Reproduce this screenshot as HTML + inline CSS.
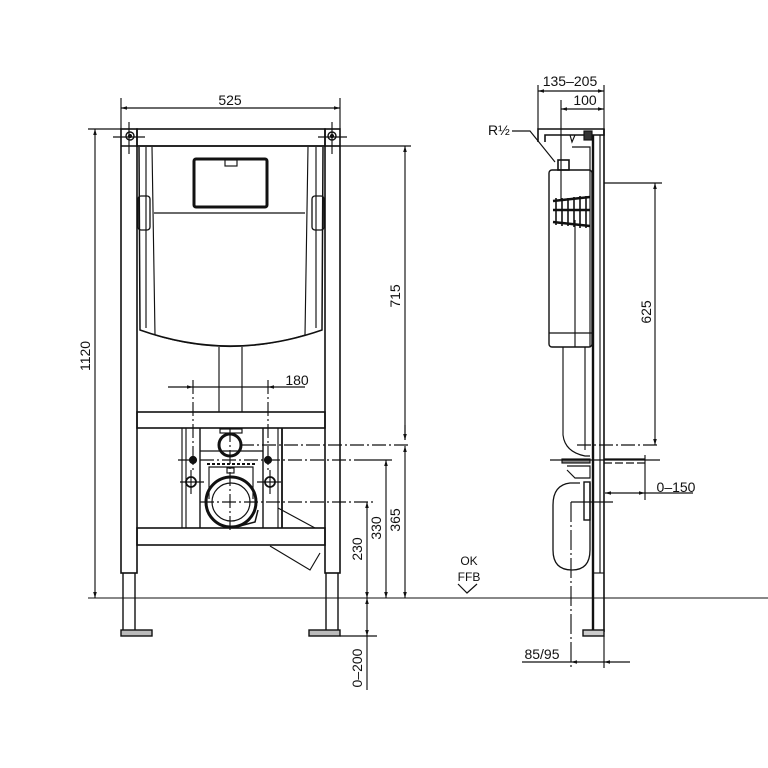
<!DOCTYPE html>
<html><head><meta charset="utf-8"><style>
html,body{margin:0;padding:0;background:#fff;}
svg{display:block;}
text{font-family:"Liberation Sans",sans-serif;fill:#111;}
</style></head><body>
<svg width="768" height="768" viewBox="0 0 768 768" xmlns="http://www.w3.org/2000/svg">
<defs>
<marker id="a" viewBox="0 0 10 10" refX="10" refY="5" markerWidth="9" markerHeight="6" orient="auto-start-reverse" markerUnits="userSpaceOnUse"><path d="M0,2 L10,5 L0,8 z" fill="#111"/></marker>
</defs>
<g fill="none" stroke="#111" stroke-width="1.15">
<line x1="88" y1="598" x2="768" y2="598" stroke="#777" stroke-width="1.8"/>

<rect x="137" y="129" width="188" height="17" stroke-width="1.6"/>
<line x1="121" y1="146" x2="340" y2="146" stroke-width="1.6"/>
<rect x="121" y="129" width="16" height="444" stroke-width="1.6"/>
<rect x="325" y="129" width="15" height="444" stroke-width="1.6"/>
<line x1="123" y1="573" x2="123" y2="630" stroke-width="1.4"/>
<line x1="135" y1="573" x2="135" y2="630" stroke-width="1.4"/>
<rect x="121" y="630" width="31" height="6" fill="#bbb" stroke-width="1.4"/>
<line x1="326" y1="573" x2="326" y2="630" stroke-width="1.4"/>
<line x1="338" y1="573" x2="338" y2="630" stroke-width="1.4"/>
<rect x="309" y="630" width="31" height="6" fill="#bbb" stroke-width="1.4"/>
<circle cx="130" cy="136" r="4" stroke-width="1.4"/><circle cx="130" cy="136" r="1.5" fill="#111"/>
<line x1="113" y1="137" x2="145" y2="137"/><line x1="129" y1="122" x2="129" y2="154"/>
<circle cx="332" cy="136" r="4" stroke-width="1.4"/><circle cx="332" cy="136" r="1.5" fill="#111"/>
<line x1="318" y1="137" x2="347" y2="137"/><line x1="332" y1="122" x2="332" y2="154"/>
<path d="M139,147 L140,330 Q230,362 322,330 L323,147" stroke-width="1.5"/>
<path d="M146,147 L146,328" /><path d="M316,147 L316,328"/>
<path d="M152,147 L155,335 Q230,358 305,335 L308,147"/>
<line x1="154" y1="213" x2="305" y2="213"/>
<rect x="194" y="159" width="73" height="48" rx="2" stroke-width="3"/>
<rect x="225" y="160" width="12" height="6"/>
<rect x="138" y="196" width="12" height="34" rx="3" stroke-width="1.3"/>
<rect x="312" y="196" width="12" height="34" rx="3" stroke-width="1.3"/>
<line x1="219" y1="347" x2="219" y2="412"/><line x1="242" y1="347" x2="242" y2="412"/>
<rect x="137" y="412" width="188" height="16" stroke-width="1.6"/>
<rect x="137" y="528" width="188" height="17" stroke-width="1.6"/>
<line x1="182" y1="428" x2="182" y2="528"/><line x1="186" y1="428" x2="186" y2="528"/>
<line x1="200" y1="428" x2="200" y2="528" stroke-width="1.4"/>
<line x1="263" y1="428" x2="263" y2="528" stroke-width="1.4"/>
<line x1="278" y1="428" x2="278" y2="528"/><line x1="282" y1="428" x2="282" y2="528" stroke-width="1.8"/>
<line x1="200" y1="451" x2="263" y2="451"/>
<circle cx="230" cy="445" r="11" stroke-width="3"/>
<rect x="220" y="429" width="22" height="4"/>
<circle cx="193" cy="460" r="3.5" fill="#111"/><circle cx="268" cy="460" r="3.5" fill="#111"/>
<circle cx="191" cy="482" r="5" stroke-width="1.8"/><circle cx="270" cy="482" r="5" stroke-width="1.8"/>
<line x1="180" y1="482" x2="204" y2="482"/><line x1="191" y1="470" x2="191" y2="494"/>
<line x1="257" y1="482" x2="281" y2="482"/><line x1="270" y1="470" x2="270" y2="494"/>
<path d="M209,499 L209,467 L253,467 L253,499"/>
<line x1="207" y1="464" x2="256" y2="464" stroke-dasharray="3,2" stroke-width="2"/>
<rect x="227" y="468" width="7" height="5"/>
<circle cx="231" cy="502" r="25" stroke-width="3"/>
<circle cx="231" cy="502" r="19" stroke-width="1.2"/>
<path d="M236,527 L255,522 L258,510" stroke-width="1.5"/>
<path d="M278,508 L315,528"/>
<path d="M270,546 L310,570 L320,553"/>
<g stroke-dasharray="14,3,2,3">
<line x1="230" y1="428" x2="230" y2="530"/>
<line x1="193" y1="380" x2="193" y2="470"/>
<line x1="268" y1="380" x2="268" y2="470"/>
<line x1="240" y1="445" x2="410" y2="445"/>
<line x1="178" y1="460" x2="358" y2="460"/>
<line x1="200" y1="502" x2="375" y2="502"/>
</g>
<line x1="358" y1="460" x2="392" y2="460"/>
<line x1="121" y1="98" x2="121" y2="129"/><line x1="340" y1="98" x2="340" y2="129"/>
<line x1="121" y1="108" x2="340" y2="108" marker-start="url(#a)" marker-end="url(#a)"/>
<line x1="88" y1="129" x2="121" y2="129"/>
<line x1="95" y1="129" x2="95" y2="598" marker-start="url(#a)" marker-end="url(#a)"/>
<line x1="325" y1="146" x2="411" y2="146"/>
<line x1="405" y1="146" x2="405" y2="440" marker-start="url(#a)"/>
<line x1="405" y1="425" x2="405" y2="440" marker-end="url(#a)"/>
<line x1="405" y1="446" x2="405" y2="598" marker-start="url(#a)" marker-end="url(#a)"/>
<line x1="168" y1="387" x2="193" y2="387" marker-end="url(#a)"/>
<line x1="268" y1="387" x2="305" y2="387" marker-start="url(#a)"/>
<line x1="193" y1="387" x2="268" y2="387"/>
<line x1="386" y1="460" x2="386" y2="598" marker-start="url(#a)" marker-end="url(#a)"/>
<line x1="367" y1="502" x2="367" y2="598" marker-start="url(#a)" marker-end="url(#a)"/>
<line x1="367" y1="598" x2="367" y2="636" marker-start="url(#a)" marker-end="url(#a)"/>
<line x1="340" y1="636" x2="377" y2="636"/>
<line x1="367" y1="636" x2="367" y2="690"/>
<path d="M458,584 L467,593 L477,584" stroke-width="1.2"/>

<line x1="593" y1="135" x2="593" y2="632" stroke-width="2.4"/>
<line x1="600" y1="135" x2="600" y2="573"/>
<line x1="604" y1="129" x2="604" y2="632" stroke-width="1.6"/>
<line x1="593" y1="573" x2="604" y2="573"/>
<rect x="583" y="630" width="21" height="6" fill="#ccc" stroke-width="1.4"/>
<path d="M538,142 L538,129 L604,129 L604,135 L545,135 L545,142" stroke-width="1.6"/>
<rect x="584" y="131" width="8" height="9" fill="#333"/>
<path d="M570,135 L572,142 L575,135"/>
<path d="M572,147 L590,147 L590,347"/>
<rect x="549" y="170" width="43" height="177" rx="3" stroke-width="1.4"/>
<rect x="558" y="160" width="11" height="10" stroke-width="1.6"/>
<line x1="561" y1="100" x2="561" y2="200"/>
<g stroke-width="2.5">
<line x1="553" y1="201" x2="590" y2="197"/><line x1="553" y1="210" x2="590" y2="210"/><line x1="553" y1="222" x2="590" y2="226"/>
</g>
<g stroke-width="1.6">
<line x1="556" y1="198" x2="556" y2="225"/><line x1="562" y1="198" x2="562" y2="226"/><line x1="568" y1="198" x2="568" y2="226"/><line x1="574" y1="197" x2="574" y2="227"/><line x1="580" y1="196" x2="580" y2="228"/><line x1="586" y1="196" x2="586" y2="228"/>
</g>
<line x1="549" y1="333" x2="592" y2="333"/>
<line x1="575" y1="220" x2="575" y2="347"/>
<path d="M563,347 L563,435 Q565,452 585,456 L590,456"/>
<line x1="585" y1="347" x2="585" y2="450"/>
<rect x="562" y="459" width="28" height="4" fill="#888"/>
<line x1="604" y1="459" x2="645" y2="459"/><line x1="604" y1="463" x2="645" y2="463" stroke-dasharray="8,3"/>
<line x1="550" y1="460" x2="660" y2="460"/>
<path d="M567,466 L590,466 L590,478 L575,478 L567,470"/>
<path d="M580,483 L570,483 Q553,485 553,505 L553,550 Q553,570 572,570 Q590,570 590,550 L590,483" stroke-width="1.3"/>
<rect x="584" y="482" width="6" height="38" stroke-width="1.4"/>
<line x1="571" y1="502" x2="613" y2="502"/>
<line x1="577" y1="445" x2="660" y2="445" stroke-dasharray="14,3,2,3"/>
<line x1="571" y1="502" x2="571" y2="668" stroke-dasharray="20,3,2,3"/>
<line x1="538" y1="85" x2="538" y2="129"/>
<line x1="604" y1="85" x2="604" y2="129"/>
<line x1="538" y1="91" x2="604" y2="91" marker-start="url(#a)" marker-end="url(#a)"/>
<line x1="561" y1="109" x2="604" y2="109" marker-start="url(#a)" marker-end="url(#a)"/>
<path d="M512,131 L530,131 L555,162"/>
<line x1="604" y1="183" x2="662" y2="183"/>
<line x1="655" y1="183" x2="655" y2="445" marker-start="url(#a)" marker-end="url(#a)"/>
<line x1="645" y1="455" x2="645" y2="500"/>
<line x1="605" y1="493" x2="645" y2="493" marker-start="url(#a)" marker-end="url(#a)"/>
<line x1="645" y1="493" x2="693" y2="493"/>
<line x1="604" y1="636" x2="604" y2="668"/>
<line x1="522" y1="662" x2="571" y2="662"/>
<line x1="571" y1="662" x2="604" y2="662" marker-start="url(#a)"/>
<line x1="604" y1="662" x2="630" y2="662" marker-start="url(#a)"/>
</g>

<g font-size="14">
<text x="230" y="105" text-anchor="middle">525</text>
<text x="297" y="385" text-anchor="middle">180</text>
<text transform="translate(90,356) rotate(-90)" text-anchor="middle">1120</text>
<text transform="translate(400,296) rotate(-90)" text-anchor="middle">715</text>
<text transform="translate(400,520) rotate(-90)" text-anchor="middle">365</text>
<text transform="translate(381,528) rotate(-90)" text-anchor="middle">330</text>
<text transform="translate(362,549) rotate(-90)" text-anchor="middle">230</text>
<text transform="translate(362,668) rotate(-90)" text-anchor="middle">0–200</text>
<text x="469" y="565" text-anchor="middle" font-size="12">OK</text>
<text x="469" y="581" text-anchor="middle" font-size="12">FFB</text>
<text x="570" y="86" text-anchor="middle">135–205</text>
<text x="585" y="105" text-anchor="middle">100</text>
<text x="488" y="135">R½</text>
<text transform="translate(651,312) rotate(-90)" text-anchor="middle">625</text>
<text x="676" y="492" text-anchor="middle">0–150</text>
<text x="542" y="659" text-anchor="middle">85/95</text>
</g>
</svg>
</body></html>
